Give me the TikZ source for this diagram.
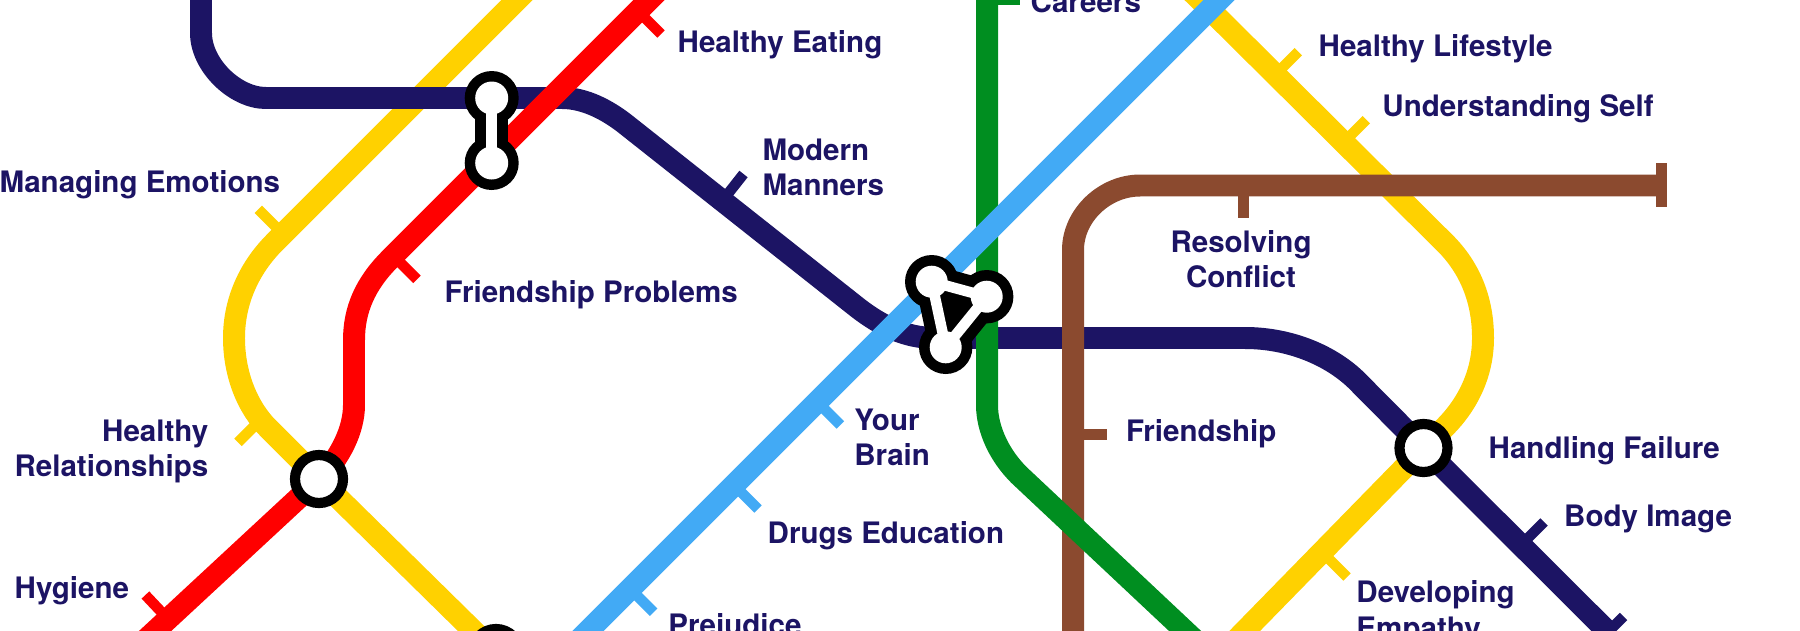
\documentclass[tikz,border=0pt]{standalone}
\usepackage{fontspec}
\setmainfont{TeX Gyre Heros}
\definecolor{navyline}{RGB}{28,20,100}
\definecolor{yellowline}{RGB}{255,209,0}
\definecolor{redline}{RGB}{255,0,0}
\definecolor{greenline}{RGB}{0,142,32}
\definecolor{blueline}{RGB}{66,170,245}
\definecolor{brownline}{RGB}{139,74,47}
\tikzset{
  rail/.style={line width=6.25pt},
  spur/.style={line width=3pt},
  ring/.style={draw=black,fill=white,line width=2.9pt},
  stopname/.style={font=\fontsize{8.4}{10}\selectfont\bfseries,text=navyline,inner sep=0pt,align=left},
}
\begin{document}
\begin{tikzpicture}[x=0.01cm,y=-0.01cm]
\useasboundingbox (0,0) rectangle (1800,630);
\clip (0,0) rectangle (1800,630);
\coordinate (hubL) at (319,479);
\coordinate (hubS) at (496,653);
\coordinate (hubR) at (1423.5,448);
%%%%%%%%%%%%%%%%%%%% the yellow line %%%%%%%%%%%%%%%%%%%%
\begin{scope}[draw=yellowline]
  \draw[rail] (527,-10) -- (275,242) .. controls (250,267) and (234,300) .. (234,338)
    .. controls (234,375) and (248,408) .. (268,428) -- (hubL) -- (hubS);
  \draw[rail] (1190,-10) -- (1445,243) .. controls (1470,268) and (1483,300) .. (1483,338)
    .. controls (1483,380) and (1462,411) .. (1442,430) -- (hubR) -- (1230,646);
  \draw[spur] (281.6,232.6) -- ++(-23.3,-23.3);
  \draw[spur] (261.3,419) -- ++(-23.3,23.3);
  \draw[spur] (1275,75) -- ++(23.3,-23.3);
  \draw[spur] (1343,143) -- ++(23.3,-23.3);
  \draw[spur] (1323.7,553.7) -- ++(23.3,23.3);
\end{scope}
%%%%%%%%%%%%%%%%%%%% the navy line %%%%%%%%%%%%%%%%%%%%
\begin{scope}[draw=navyline]
  \draw[rail] (201,-15) -- (201,33) .. controls (201,65) and (235,98) .. (266,98) -- (562,98)
    .. controls (585,98) and (607,110) .. (624,123) -- (858,308)
    .. controls (880,325) and (905,338) .. (935,338) -- (1245,338)
    .. controls (1292,338) and (1335,357) .. (1361,385) -- (hubR) -- (1608,632);
  \draw[spur] (723,200) -- (743.5,174);
  \draw[spur] (1520.7,545.3) -- ++(23.3,-23.3);
  \draw[spur] (1592.5,647.5) -- ++(31,-31);
\end{scope}
%%%%%%%%%%%%%%%%%%%% the brown line %%%%%%%%%%%%%%%%%%%%
\begin{scope}[draw=brownline]
  \draw[rail] (1073,645) -- (1073,250) .. controls (1073,215) and (1105,185.5) .. (1140,185.5) -- (1661.5,185.5);
  \draw[spur] (1661.5,163.3) -- (1661.5,207.3);
  \draw[spur] (1243.3,185.5) -- (1243.3,218);
  \draw[spur] (1073,434.5) -- (1107,434.5);
\end{scope}
%%%%%%%%%%%%%%%%%%%% the green line %%%%%%%%%%%%%%%%%%%%
\begin{scope}[draw=greenline]
  \draw[rail] (987,-15) -- (987,405) .. controls (987,430) and (1000,456) .. (1019,475) -- (1200,645);
  \draw[spur] (987,0) -- (1020,0);
\end{scope}
%%%%%%%%%%%%%%%%%%%% the blue line %%%%%%%%%%%%%%%%%%%%
\begin{scope}[draw=blueline]
  \draw[rail] (1234,-15) -- (559,660);
  \draw[spur] (817,401.7) -- ++(23.3,23.3);
  \draw[spur] (734.7,485.7) -- ++(23.3,23.3);
  \draw[spur] (630.3,589) -- ++(23.3,23.3);
\end{scope}
%%%%%%%%%%%%%%%%%%%% the red line %%%%%%%%%%%%%%%%%%%%
\begin{scope}[draw=redline]
  \draw[rail] (660,-11) -- (390,259) .. controls (365,284) and (354,310) .. (354,340) -- (354,405)
    .. controls (354,430) and (340,458) .. (hubL) -- (140,645);
  \draw[spur] (637.7,10.7) -- ++(23.3,23.3);
  \draw[spur] (393.7,256) -- ++(23.3,23.3);
  \draw[spur] (168,619) -- (145.4,595);
\end{scope}
%%%%%%%%%%%%%%%%%%%% the stations %%%%%%%%%%%%%%%%%%%%
\foreach \hub in {hubL,hubS,hubR}
  \draw[ring] (\hub) circle (24);
% the two joined discs
\coordinate (pairA) at (491.7,98);
\coordinate (pairB) at (491.7,163);
\fill[black] (pairA) circle (27) (pairB) circle (27);
\draw[black,line width=9.4pt] (pairA) -- (pairB);
\fill[white] (pairA) circle (16.5) (pairB) circle (16.5);
\draw[white,line width=3pt] (pairA) -- (pairB);
% the three joined discs
\coordinate (triA) at (931.7,281.7);
\coordinate (triB) at (986.7,296.7);
\coordinate (triC) at (945.7,347.3);
\fill[black] (triA) circle (26.7) (triB) circle (26.7) (triC) circle (26.7);
\filldraw[black,line width=9.4pt,line join=round] (triA) -- (triB) -- (triC) -- cycle;
\fill[white] (triA) circle (16) (triB) circle (16) (triC) circle (16);
\draw[white,line width=3pt] (triA) -- (triB) -- (triC) -- cycle;
%%%%%%%%%%%%%%%%%%%% the names %%%%%%%%%%%%%%%%%%%%
\node[stopname,anchor=base west] (emotions) at (-1,192) {Managing Emotions};
\node[stopname,anchor=base west] (problems) at (444,302) {Friendship Problems};
\node[stopname,anchor=base west] (eating) at (677,52) {Healthy Eating};
\node[stopname,anchor=base west] (careers) at (1030,12) {Careers};
\node[stopname,anchor=base west] (lifestyle) at (1318,56) {Healthy Lifestyle};
\node[stopname,anchor=base west] (self) at (1381.7,116) {Understanding Self};
\node[stopname,anchor=base west] (manners) at (761.8,195.3) {Modern\\Manners};
\node[stopname,anchor=base,align=center] (conflict) at (1241,287.7) {Resolving\\Conflict};
\node[stopname,anchor=base west] (friendship) at (1125.4,441) {Friendship};
\node[stopname,anchor=base east,align=right] (relationships) at (209,476.7) {Healthy\\Relationships};
\node[stopname,anchor=base west] (hygiene) at (14,598) {Hygiene};
\node[stopname,anchor=base west] (brain) at (853.6,465.3) {Your\\Brain};
\node[stopname,anchor=base west] (drugs) at (767,543) {Drugs Education};
\node[stopname,anchor=base west] (prejudice) at (667.6,635) {Prejudice};
\node[stopname,anchor=base west] (failure) at (1488,458.7) {Handling Failure};
\node[stopname,anchor=base west] (body) at (1563.5,526.7) {Body Image};
\node[stopname,anchor=base west] (empathy) at (1355.7,638) {Developing\\Empathy};
\end{tikzpicture}
\end{document}
